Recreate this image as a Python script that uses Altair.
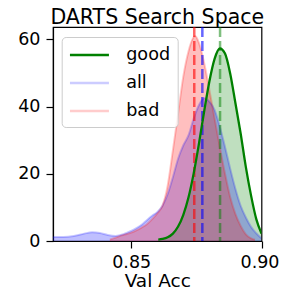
import altair as alt
import pandas as pd

series_names = ["good", "all", "bad"]

good_x = [0.8604, 0.862, 0.864, 0.866, 0.868, 0.870, 0.872, 0.874, 0.876, 0.878,
          0.880, 0.882, 0.884, 0.886, 0.888, 0.890, 0.892, 0.894, 0.896, 0.898, 0.900]
good_y = [0.4, 0.6, 1.1, 2.2, 4.3, 7.8, 13.0, 20.2, 29.0, 38.6,
          47.5, 54.2, 57.3, 55.8, 49.8, 41.0, 32.0, 22.0, 13.5, 6.5, 2.2]

all_x = [0.820, 0.824, 0.828, 0.832, 0.835, 0.838, 0.841, 0.844, 0.847, 0.850,
         0.852, 0.854, 0.856, 0.858, 0.860, 0.862, 0.864, 0.866, 0.868, 0.870,
         0.872, 0.874, 0.876, 0.878, 0.880, 0.882, 0.884, 0.886, 0.888, 0.890,
         0.892, 0.894, 0.896, 0.898, 0.900]
all_y = [1.2, 1.2, 1.5, 2.2, 2.6, 2.4, 1.8, 1.5, 2.0, 3.0,
         3.8, 4.8, 6.2, 7.5, 8.6, 10.5, 14.0, 19.0, 24.5, 28.5,
         31.5, 36.5, 40.5, 42.5, 41.5, 39.0, 34.0, 28.0, 21.5, 15.5,
         10.5, 7.0, 4.2, 2.3, 0.8]

bad_x = [0.8418, 0.844, 0.846, 0.848, 0.850, 0.852, 0.854, 0.856, 0.858, 0.860,
         0.862, 0.864, 0.866, 0.868, 0.870, 0.872, 0.8745, 0.876, 0.878, 0.880,
         0.882, 0.884, 0.886, 0.888, 0.890, 0.892, 0.894, 0.896, 0.8975]
bad_y = [0.4, 1.0, 1.6, 2.0, 2.5, 3.2, 4.0, 5.0, 6.5, 8.2,
         10.5, 16.5, 27.0, 38.0, 49.0, 56.5, 61.0, 59.0, 53.0, 45.0,
         36.5, 28.0, 20.0, 13.0, 8.0, 4.5, 2.0, 0.8, 0.4]

# dashed vertical markers (good, all, bad)
marker_x = [0.8841, 0.8773, 0.8742]

x_ticks = [0.85, 0.90]
y_ticks = [0, 20, 40, 60]
title_text = "DARTS Search Space"

colors = ["#008000", "#0000ff", "#ff0000"]
legend_colors = ["#008000", "#ccccff", "#ffcccc"]
line_opacity = [1.0, 0.22, 0.22]
rule_opacity = [0.5, 0.6, 0.6]

rows = []
for name, xs, ys in zip(series_names, [good_x, all_x, bad_x], [good_y, all_y, bad_y]):
    for xv, yv in zip(xs, ys):
        rows.append({"series": name, "acc": xv, "pdf": yv})
df = pd.DataFrame(rows)

FONT = "DejaVu Sans"
W, H = 208.5, 214

x_enc = alt.X(
    "acc:Q",
    scale=alt.Scale(domain=[0.82, 0.90], nice=False, zero=False),
    axis=alt.Axis(
        title="Val Acc", values=x_ticks, format=".2f", grid=False,
        labelFontSize=17.5, titleFontSize=18.5, tickSize=7, labelPadding=19,
        labelBaseline="alphabetic", labelColor="black", titleColor="black",
        tickColor="black", domainColor="black", titleFontWeight="normal",
        titleBaseline="alphabetic", titleY=45, labelFlush=False,
        labelOffset={"condition": {"test": "datum.value > 0.89", "value": -2}, "value": 0},
    ),
)
y_enc = alt.Y(
    "pdf:Q",
    scale=alt.Scale(domain=[0, 63.7], nice=False),
    axis=alt.Axis(
        title="PDF", values=y_ticks, grid=False,
        labelFontSize=17.5, titleFontSize=18.5, tickSize=7, labelPadding=6,
        labelColor="black", titleColor="black", tickColor="black",
        domainColor="black", titleFontWeight="normal", titleAngle=270,
        titleBaseline="alphabetic", titleX=-47, titleY=107, titleAlign="center",
        labelFlush=False,
    ),
)

layers = []
# filled densities
for name, c in zip(series_names, colors):
    layers.append(
        alt.Chart(df)
        .transform_filter(alt.datum.series == name)
        .mark_area(color=c, fillOpacity=0.25, interpolate="monotone", clip=True)
        .encode(x=x_enc, y=y_enc)
    )

# faint outlines for all / bad
for name, c, o in zip(series_names[1:], colors[1:], line_opacity[1:]):
    layers.append(
        alt.Chart(df)
        .transform_filter(alt.datum.series == name)
        .mark_line(color=c, opacity=o, strokeWidth=2, interpolate="monotone", clip=True)
        .encode(x=x_enc, y=y_enc)
    )

# dashed markers
for m, c, o in zip(marker_x, colors, rule_opacity):
    layers.append(
        alt.Chart(pd.DataFrame({"acc": [m]}))
        .mark_rule(color=c, opacity=o, strokeWidth=2.5, strokeDash=[10, 4])
        .encode(x=x_enc)
    )

# solid good line on top
layers.append(
    alt.Chart(df)
    .transform_filter(alt.datum.series == "good")
    .mark_line(color=colors[0], strokeWidth=2.3, interpolate="monotone", clip=True)
    .encode(x=x_enc, y=y_enc)
)

# legend-only layer (no visible marks)
layers.append(
    alt.Chart(df)
    .transform_filter(alt.datum.pdf < -100)
    .mark_line(strokeWidth=2.5)
    .encode(
        x=x_enc,
        y=y_enc,
        color=alt.Color(
            "series:N",
            scale=alt.Scale(domain=series_names, range=legend_colors),
            legend=alt.Legend(
                orient="none", legendX=8.7, legendY=10, title=None,
                padding=7, cornerRadius=4, strokeColor="#cccccc",
                fillColor="rgba(255,255,255,0.8)", symbolType="M-1,0H3",
                symbolSize=380, symbolStrokeWidth=2.5, labelFontSize=17.6,
                labelFont=FONT, labelColor="black", labelOffset=35.5,
                rowPadding=8, labelLimit=200,
            ),
        ),
    )
)

# title as text
layers.append(
    alt.Chart(pd.DataFrame({"t": [title_text]}))
    .mark_text(font=FONT, fontSize=20.5, color="black", align="center",
               baseline="alphabetic")
    .encode(text="t:N", x=alt.value(W / 2), y=alt.value(-3))
)

chart = (
    alt.layer(*layers)
    .properties(
        width=W,
        height=H,
        autosize=alt.AutoSizeParams(type="none"),
        padding={"left": 45, "top": 19, "right": 17.5, "bottom": 47},
    )
    .configure(font=FONT)
    .configure_view(stroke="black", strokeWidth=1.2)
    .configure_axis(labelFont=FONT, titleFont=FONT, domainWidth=1.2, tickWidth=1.2)
)

chart.save("out.html", embed_options={"renderer": "svg", "actions": False})
